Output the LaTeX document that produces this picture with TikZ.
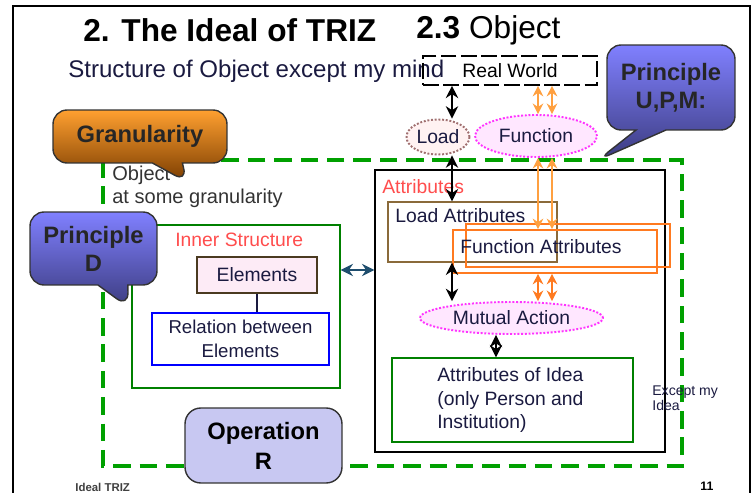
\documentclass[tikz,border=0pt]{standalone}
\usepackage{fontspec}
\setmainfont{Liberation Sans}
\usetikzlibrary{arrows.meta,shapes.geometric,shapes.callouts}
\definecolor{gdash}{HTML}{00A000}
\definecolor{boxgreen}{HTML}{008000}
\definecolor{inkblue}{HTML}{1A1A40}
\definecolor{labelred}{HTML}{FF4D4D}
\definecolor{labbrown}{HTML}{8A6A3A}
\definecolor{elbrown}{HTML}{4A3A20}
\definecolor{faorange}{HTML}{FF7A20}
\definecolor{toporange}{HTML}{FFA040}
\definecolor{ovalpink}{HTML}{FF33FF}
\definecolor{loadbrown}{HTML}{A07070}
\definecolor{teal}{HTML}{1F4E6E}
\definecolor{bluetop}{HTML}{8080FF}
\definecolor{bluebot}{HTML}{3C3C80}
\definecolor{gorange}{HTML}{FFA030}
\definecolor{gbrown}{HTML}{7A3C00}
\definecolor{opfill}{HTML}{C8C8F2}

\begin{document}
\begin{tikzpicture}[x=0.02cm, y=-0.02cm,
  title/.style={font=\fontsize{18}{20}\selectfont, anchor=west, inner sep=0},
  lbl/.style={font=\fontsize{11}{13}\selectfont, text=inkblue, inner sep=0},
  redlbl/.style={font=\fontsize{11}{13}\selectfont, text=labelred, inner sep=0, anchor=west},
  frame/.style={draw, inner sep=0},
  oval/.style={ellipse, draw, densely dotted, line width=1.1pt, inner sep=0},
  bubble/.style={rectangle callout, rounded corners=8pt, draw=black!80, line width=0.8pt,
    align=center, font=\fontsize{13.5}{16}\selectfont\bfseries, inner sep=0,
    callout pointer width=0.6cm, text=black!85},
  barr/.style={{Stealth[length=7pt,width=7pt]}-{Stealth[length=7pt,width=7pt]}, line width=1.6pt},
  oarr/.style={{Stealth[length=6pt,width=6pt]}-{Stealth[length=6pt,width=6pt]}, line width=1.2pt},
  tarr/.style={{Stealth[length=7pt,width=7pt]}-{Stealth[length=7pt,width=7pt]}, line width=1.6pt, draw=teal},
]
\useasboundingbox (0,0) rectangle (755,493);

% page frame and titles
\draw[line width=0.8pt] (13,493) -- (13,6) -- (750,6) -- (750,493);
\node[title] (t1) at (83,30) {\textbf{2. The Ideal of TRIZ}};
\node[title] (t2) at (416,30) {\textbf{2.3} Object};
\node[title, font=\fontsize{13.7}{15}\selectfont, text=inkblue] (sub) at (68,71) {Structure of Object except my mind};

% object at some granularity
\draw[gdash, line width=2pt, dash pattern=on 10pt off 5pt] (103,160) rectangle (682,466);
\node[lbl, anchor=west, text=black!80, font=\fontsize{11.4}{13}\selectfont] (obj1) at (112,175) {Object};
\node[lbl, anchor=west, text=black!80, font=\fontsize{11.4}{13}\selectfont] (obj2) at (112,198) {at some granularity};

% real world, load, function
\node[frame, dash pattern=on 9pt off 2.5pt, line width=0.9pt, minimum width=3.48cm, minimum height=0.58cm, lbl, text=black] (rw) at (510,70.5) {Real World};
\node[oval, draw=loadbrown, fill=pink!20, minimum width=1.26cm, minimum height=0.7cm, lbl] (load) at (438,137) {Load};
\node[oval, draw=ovalpink, fill=ovalpink!12, minimum width=2.44cm, minimum height=0.84cm, lbl] (fn) at (536,136) {Function};

% attributes
\node[frame, line width=0.8pt, minimum width=5.8cm, minimum height=5.64cm] (attr) at (520,311) {};
\node[redlbl] (attrlbl) at (382,187) {Attributes};
\node[frame, draw=labbrown, line width=0.8pt, minimum width=3.38cm, minimum height=1.2cm] (la) at (472.5,232) {};
\node[lbl, anchor=west] (latxt) at (395,216) {Load Attributes};
\node[frame, draw=faorange, line width=0.9pt, minimum width=4.08cm, minimum height=0.86cm] (fa) at (555,251.5) {};
\node[frame, draw=faorange, line width=0.9pt, minimum width=4.08cm, minimum height=0.86cm] (fb) at (568,245.5) {};
\node[lbl] (fatxt) at (541,247) {Function Attributes};
\node[oval, draw=ovalpink, fill=ovalpink!12, minimum width=3.66cm, minimum height=0.64cm, lbl] (ma) at (511.5,318) {Mutual Action};
\node[frame, draw=boxgreen, line width=0.8pt, minimum width=4.82cm, minimum height=1.68cm] (ai) at (512.5,400) {};
\node[lbl, anchor=west, align=left, font=\fontsize{11}{13.6}\selectfont] (aitxt) at (437,400) {Attributes of Idea\\(only Person and\\Institution)};
\node[anchor=north west, align=left, inner sep=0, font=\fontsize{8}{9}\selectfont, text=inkblue] (exc) at (652,385) {Except my\\Idea};

% inner structure
\node[frame, draw=boxgreen, line width=0.8pt, minimum width=4.16cm, minimum height=3.26cm] (inner) at (236,306.5) {};
\node[redlbl] (innerlbl) at (175,240) {Inner Structure};
\node[frame, draw=elbrown, fill=magenta!8, line width=0.8pt, minimum width=2.4cm, minimum height=0.72cm, lbl] (el) at (257,275) {Elements};
\node[frame, draw=blue, line width=0.8pt, minimum width=3.54cm, minimum height=1.04cm, lbl, align=center, font=\fontsize{10.6}{13.6}\selectfont] (rel) at (240.5,339) {Relation between\\Elements};
\draw[line width=0.8pt, inkblue] (el.south) -- (el.south |- rel.north);

% connectors
\coordinate (lx) at (452,0);
\coordinate (mx) at (496,0);
\coordinate (o1) at (538,0);
\coordinate (o2) at (552,0);
\coordinate (ty) at (0,270);
\draw[barr] (lx |- rw.south) -- (lx |- load.north);
\draw[barr] (lx |- load.south) -- (lx |- la.north);
\draw[barr] (lx |- la.south) -- (lx |- ma.north);
\draw[barr] (mx |- ma.south) -- (mx |- ai.north);
\draw[oarr, toporange] (o1 |- rw.south) -- (o1 |- fn.north);
\draw[oarr, toporange] (o2 |- rw.south) -- (o2 |- fn.north);
\draw[oarr, toporange] (o1 |- fn.south) -- (o1 |- fa.north);
\draw[oarr, toporange] (o2 |- fn.south) -- (o2 |- fa.north);
\draw[oarr, faorange] (o1 |- fa.south) -- (o1 |- ma.north);
\draw[oarr, faorange] (o2 |- fa.south) -- (o2 |- ma.north);
\draw[tarr] (inner.east |- ty) -- (attr.west |- ty);

% callouts
\node[bubble, top color=gorange, bottom color=gbrown, minimum width=3.48cm, minimum height=1.06cm, callout absolute pointer={(187,182)}] (gran) at (140,136.5) {Granularity};
\node[bubble, top color=bluetop, bottom color=bluebot, minimum width=2.56cm, minimum height=1.7cm, callout absolute pointer={(598,160)}] (upm) at (671,87.5) {Principle\\U,P,M:};
\node[bubble, top color=bluetop, bottom color=bluebot, minimum width=2.54cm, minimum height=1.46cm, callout absolute pointer={(128,307)}] (pd) at (93.5,248.5) {Principle\\D};
\node[draw=black!80, fill=opfill, rounded corners=9pt, line width=0.8pt, align=center, inner sep=0,
  font=\fontsize{13.5}{17}\selectfont\bfseries, minimum width=3.14cm, minimum height=1.5cm] (op) at (263.5,445.5) {Operation\\R};

% footer
\node[anchor=west, inner sep=0, font=\fontsize{6.5}{8}\selectfont\bfseries, text=black!75] (foot) at (75,487) {Ideal TRIZ};
\node[anchor=west, inner sep=0, font=\fontsize{7}{8}\selectfont\bfseries] (pg) at (700,486) {11};
\end{tikzpicture}
\end{document}
